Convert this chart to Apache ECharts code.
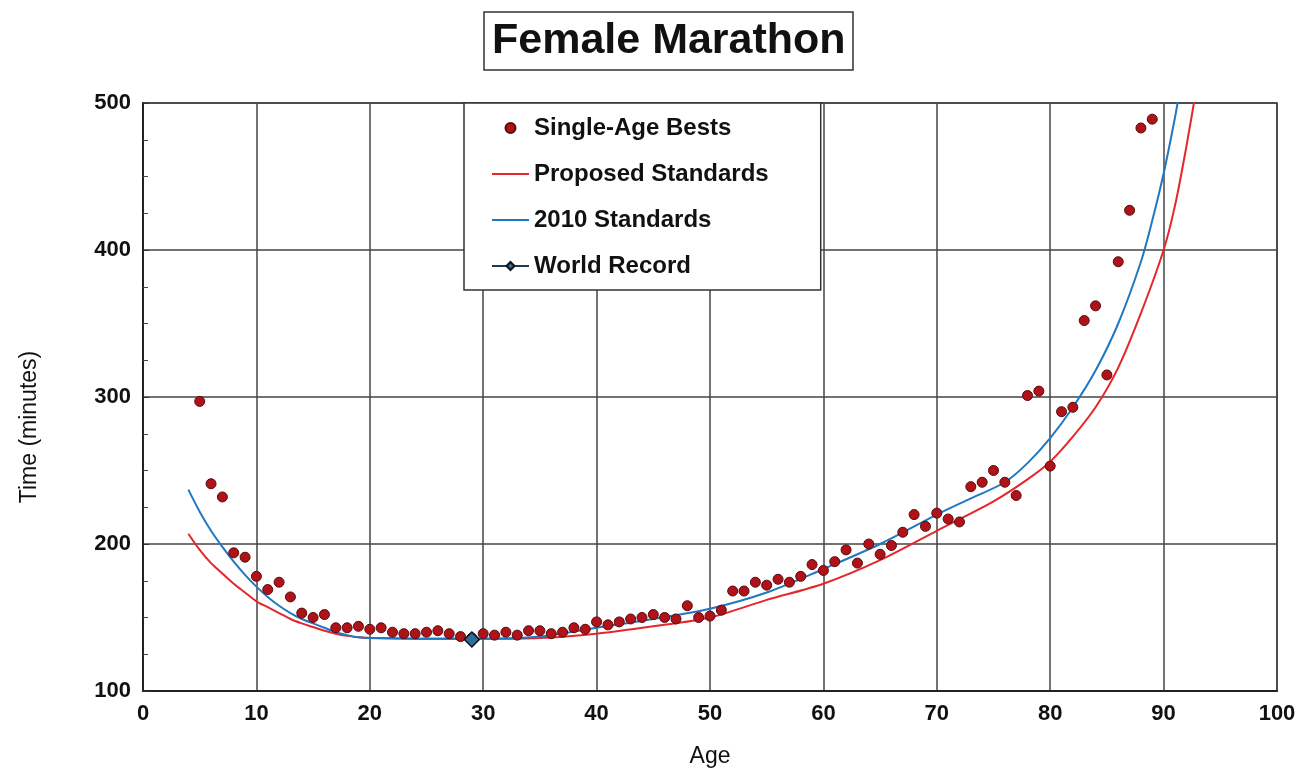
<!DOCTYPE html>
<html>
<head>
<meta charset="utf-8">
<script src="https://cdn.jsdelivr.net/npm/echarts@6/dist/echarts.min.js"></script>
<style>html,body{margin:0;padding:0;background:#fff;}#c{width:1304px;height:781px;}</style>
</head>
<body>
<div id="c"></div>
<script>
// Single-age best times (minutes) by age
const bestAges = [5,6,7,8,9,10,11,12,13,14,15,16,17,18,19,20,21,22,23,24,25,26,27,28,29,30,31,32,33,34,35,36,37,38,39,40,41,42,43,44,45,46,47,48,49,50,51,52,53,54,55,56,57,58,59,60,61,62,63,64,65,66,67,68,69,70,71,72,73,74,75,76,77,78,79,80,81,82,83,84,85,86,87,88,89];
const bestTimes = [297,241,232,194,191,178,169,174,164,153,150,152,143,143,144,142,143,140,139,139,140,141,139,137,136,139,138,140,138,141,141,139,140,143,142,147,145,147,149,150,152,150,149,158,150,151,155,168,168,174,172,176,174,178,186,182,188,196,187,200,193,199,208,220,212,221,217,215,239,242,250,242,233,301,304,253,290,293,352,362,315,392,427,483,489];
// Proposed standards
const propAges = [4,5,6,7,8,9,10,11,12,13,14,15,16,17,18,19,20,25,30,35,40,45,50,55,60,65,70,75,78,80,82,84,86,88,90,91,92,93];
const propTimes = [207,196,187,180,173,167,161,157,153,149,146,143.5,141,139,137.5,136.5,136,135.5,135.5,136,139,144,150,162,173,189,209,229,244,256,273,293,320,357,400,430,470,515];
// 2010 standards
const stdAges = [4,5,6,7,8,9,10,11,12,13,14,15,16,17,18,19,20,25,30,35,40,45,50,55,60,65,70,73,76,78,80,82,84,86,88,89,90,91,91.5];
const stdTimes = [237,222,209,198,188,179,171,164,158,153,149,146,143,140,138,136.5,136,135.5,135.5,137,143,149,156,167,183,200,220,231,242,255,272,293,318,350,392,420,452,490,512];
// World record
const wrAge = [29];
const wrTime = [135];

const xTicks = ['0','10','20','30','40','50','60','70','80','90','100'];
const yTicks = ['100','200','300','400','500'];

const zip = (a, b) => a.map((v, i) => [v, b[i]]);
const FONT = 'Liberation Sans';
const LINE_ICON = 'path://M0,0 L37,0 L37,2 L0,2 Z';

const chart = echarts.init(document.getElementById('c'), null, {renderer: 'canvas'});
chart.setOption({
  animation: false,
  backgroundColor: '#fff',
  title: {
    text: 'Female Marathon',
    left: 484, top: 12,
    padding: [8, 8, 7, 8],
    borderColor: '#333', borderWidth: 1.5,
    textStyle: {fontFamily: FONT, fontSize: 43, fontWeight: 'bold', color: '#111'}
  },
  legend: {
    orient: 'vertical',
    left: 464, top: 103,
    padding: [13, 52, 12, 27],
    itemGap: 22,
    itemWidth: 37, itemHeight: 10,
    backgroundColor: '#fff',
    borderColor: '#333', borderWidth: 1.5,
    textStyle: {fontFamily: FONT, fontSize: 24, fontWeight: 'bold', color: '#111'},
    data: [
      {name: 'Single-Age Bests', icon: 'circle'},
      {name: 'Proposed Standards', icon: LINE_ICON},
      {name: '2010 Standards', icon: LINE_ICON},
      {name: 'World Record'}
    ]
  },
  grid: {left: 143, right: 27, top: 103, bottom: 90, show: true, borderColor: '#333', borderWidth: 1.5, backgroundColor: '#fff'},
  xAxis: {
    type: 'value', min: 0, max: 100, interval: 10,
    name: 'Age', nameLocation: 'middle', nameGap: 54,
    nameTextStyle: {fontFamily: FONT, fontSize: 23, color: '#111'},
    axisLine: {lineStyle: {color: '#222', width: 2}},
    axisTick: {show: false},
    axisLabel: {fontFamily: FONT, fontSize: 22, fontWeight: 'bold', color: '#111', margin: 12,
      formatter: v => xTicks[Math.round(v / 10)]},
    splitLine: {show: true, lineStyle: {color: '#444', width: 1.5}}
  },
  yAxis: {
    type: 'value', min: 100, max: 500, interval: 100,
    name: 'Time (minutes)', nameLocation: 'middle', nameGap: 102,
    nameTextStyle: {fontFamily: FONT, fontSize: 23, color: '#111', padding: [0, 60, 0, 0]},
    axisLine: {show: true, lineStyle: {color: '#222', width: 2}},
    axisTick: {show: true, inside: true, length: 6, lineStyle: {color: '#333'}},
    minorTick: {show: true, splitNumber: 4, length: 5, lineStyle: {color: '#444'}},
    axisLabel: {fontFamily: FONT, fontSize: 22, fontWeight: 'bold', color: '#111', margin: 12,
      formatter: v => yTicks[Math.round((v - 100) / 100)]},
    splitLine: {show: true, lineStyle: {color: '#444', width: 1.5}}
  },
  series: [
    {
      name: 'Proposed Standards', type: 'line', data: zip(propAges, propTimes),
      smooth: 0.3, symbol: 'none', showSymbol: false, clip: true,
      lineStyle: {color: '#e5262b', width: 2}, itemStyle: {color: '#e5262b'}, z: 2
    },
    {
      name: '2010 Standards', type: 'line', data: zip(stdAges, stdTimes),
      smooth: 0.3, symbol: 'none', showSymbol: false, clip: true,
      lineStyle: {color: '#1f78c1', width: 2}, itemStyle: {color: '#1f78c1'}, z: 2
    },
    {
      name: 'Single-Age Bests', type: 'scatter', data: zip(bestAges, bestTimes),
      symbol: 'circle', symbolSize: 10,
      itemStyle: {color: '#b0121a', borderColor: '#5a0a0c', borderWidth: 1, opacity: 1}, z: 3
    },
    {
      name: 'World Record', type: 'line', data: zip(wrAge, wrTime),
      symbol: 'diamond', symbolSize: 15, showSymbol: true,
      lineStyle: {color: '#1d3a52', width: 2},
      itemStyle: {color: '#2c6e9c', borderColor: '#111', borderWidth: 1.5}, z: 4
    }
  ]
});
</script>
</body>
</html>
